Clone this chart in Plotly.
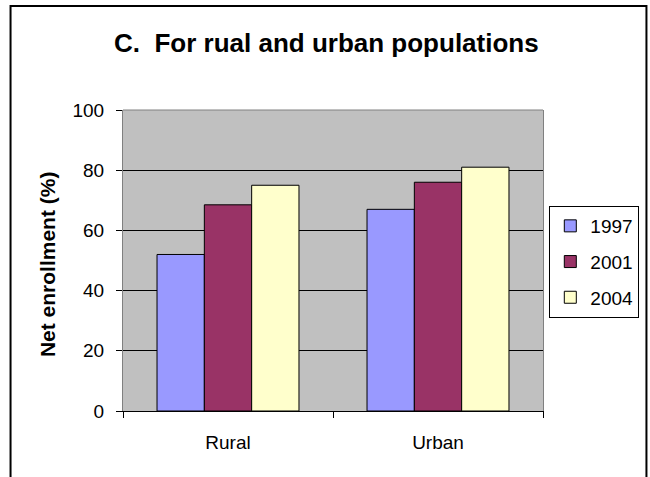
import plotly.graph_objects as go

# Net enrollment by area and survey year
areas = ["Rural", "Urban"]
years = ["1997", "2001", "2004"]
enrollment_1997 = [52, 67]
enrollment_2001 = [68.5, 76]
enrollment_2004 = [75, 81]
y_ticks = [0, 20, 40, 60, 80, 100]

series = [enrollment_1997, enrollment_2001, enrollment_2004]
colors = ["#9999FF", "#993366", "#FFFFCC"]

fig = go.Figure()
for year, vals, col in zip(years, series, colors):
    fig.add_trace(go.Bar(
        x=areas, y=vals, name=year, legendgroup=year,
        marker=dict(color=col, line=dict(color="black", width=1)),
    ))

L, R, T, B = 123.3, 107.3, 110, 66
W, H = 650, 477
pw, ph = W - L - R, H - T - B

def px_x(x):
    return (x - L) / pw

def px_y(y):
    return (H - B - y) / ph

fig.update_layout(
    width=W, height=H,
    margin=dict(l=L, r=R, t=T, b=B, pad=0, autoexpand=False),
    paper_bgcolor="white",
    plot_bgcolor="#C0C0C0",
    barmode="group", bargap=0.324, bargroupgap=0,
    font=dict(family="Liberation Sans, Arial, sans-serif", size=19, color="black"),
    showlegend=True,
    legend=dict(
        x=px_x(549), y=px_y(206), xanchor="left", yanchor="top",
        bgcolor="white", bordercolor="black", borderwidth=1,
        font=dict(size=19), traceorder="grouped", tracegroupgap=8,
    ),
    xaxis=dict(
        showline=True, linecolor="black", linewidth=1,
        ticks="outside", ticklen=6, tickcolor="black",
        tickson="boundaries", showgrid=False,
        ticklabelstandoff=14,
    ),
    yaxis=dict(
        range=[0, 100], tickvals=y_ticks,
        showline=True, linecolor="#808080", linewidth=1, mirror=True,
        ticks="outside", ticklen=6, tickcolor="black",
        showgrid=True, gridcolor="black", gridwidth=1,
        zeroline=False, ticklabelstandoff=8,
    ),
    shapes=[
        # grey top edge of the plot area
        dict(type="line", xref="paper", yref="paper", x0=0, x1=1, y0=1, y1=1,
             line=dict(color="#808080", width=1), layer="above"),
        # outer chart frame
        dict(type="rect", xref="paper", yref="paper",
             x0=px_x(11), x1=px_x(646), y0=px_y(6), y1=px_y(485),
             line=dict(color="black", width=2), layer="above"),
    ],
    annotations=[
        dict(text="<b>C.  For rual and urban populations</b>", xref="paper", yref="paper",
             x=px_x(327), y=px_y(43), xanchor="center", yanchor="middle",
             showarrow=False, font=dict(size=26)),
        dict(text="<b>Net enrollment (%)</b>", xref="paper", yref="paper",
             x=px_x(48), y=px_y(264.5), xanchor="center", yanchor="middle",
             textangle=-90, showarrow=False, font=dict(size=21)),
    ],
)

fig.write_html("out.html")
